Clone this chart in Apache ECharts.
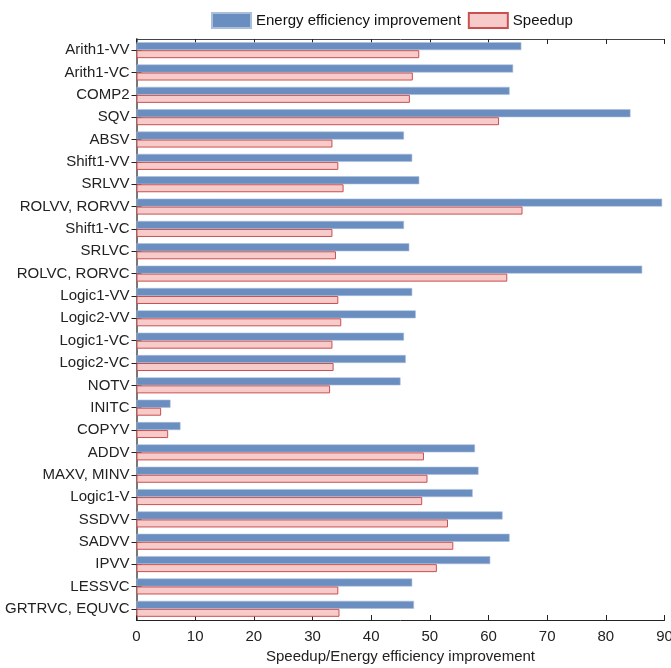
<!DOCTYPE html>
<html>
<head>
<meta charset="utf-8">
<script src="https://cdn.jsdelivr.net/npm/echarts@6/dist/echarts.min.js"></script>
<style>html,body{margin:0;padding:0;background:#fff}#c{width:671px;height:668px}</style>
</head>
<body>
<div id="c"></div>
<script>
const categories = ["Arith1-VV","Arith1-VC","COMP2","SQV","ABSV","Shift1-VV","SRLVV","ROLVV, RORVV","Shift1-VC","SRLVC","ROLVC, RORVC","Logic1-VV","Logic2-VV","Logic1-VC","Logic2-VC","NOTV","INITC","COPYV","ADDV","MAXV, MINV","Logic1-V","SSDVV","SADVV","IPVV","LESSVC","GRTRVC, EQUVC"];
const energyImprovement = [65.6,64.2,63.6,84.2,45.6,47.0,48.2,89.6,45.6,46.5,86.2,47.0,47.6,45.6,45.9,45.0,5.8,7.5,57.7,58.3,57.3,62.4,63.6,60.3,47.0,47.3];
const speedup = [48.2,47.1,46.6,61.8,33.4,34.4,35.3,65.8,33.4,34.0,63.2,34.4,34.9,33.4,33.6,33.0,4.2,5.4,49.0,49.6,48.7,53.1,54.0,51.2,34.4,34.6];
const xTicks = [0,10,20,30,40,50,60,70,80,90];

const chart = echarts.init(document.getElementById('c'));
const font = 'Liberation Sans, Arial, sans-serif';
chart.setOption({
  animation: false,
  legend: {
    left: 206, top: 7, icon: 'rect',
    itemWidth: 39, itemHeight: 15, itemGap: 7,
    textStyle: {fontFamily: font, fontSize: 15, color: '#111'},
    data: ['Energy efficiency improvement', 'Speedup']
  },
  grid: {left: 136.5, right: 6.5, top: 39, bottom: 48, containLabel: false, outerBoundsMode: 'none'},
  xAxis: [{
    type: 'value', min: xTicks[0], max: xTicks[xTicks.length-1], interval: 10,
    axisLine: {show: true, lineStyle: {color: '#222', width: 1}},
    axisTick: {show: true, inside: true, length: 5, lineStyle: {color: '#222'}},
    axisLabel: {fontFamily: font, fontSize: 15, color: '#222', margin: 9},
    splitLine: {show: false},
    name: 'Speedup/Energy efficiency improvement', nameLocation: 'middle', nameGap: 29,
    nameTextStyle: {fontFamily: font, fontSize: 15, color: '#222'}
  }, {
    type: 'value', position: 'top', min: 0, max: 90, interval: 10,
    axisLine: {show: true, lineStyle: {color: '#444', width: 1}},
    axisTick: {show: true, inside: true, length: 5, lineStyle: {color: '#222'}},
    axisLabel: {show: false}, splitLine: {show: false}
  }],
  yAxis: [{
    type: 'category', data: categories, inverse: true,
    axisLine: {show: true, lineStyle: {color: '#222', width: 1}},
    axisTick: {show: true, inside: true, alignWithLabel: true, length: 5, lineStyle: {color: '#222'}},
    axisLabel: {fontFamily: font, fontSize: 15, color: '#222', margin: 7}
  }, {
    type: 'category', data: categories, inverse: true, position: 'right',
    axisLine: {show: true, lineStyle: {color: '#777', width: 2}},
    axisTick: {show: true, inside: true, alignWithLabel: true, length: 5, lineStyle: {color: '#222'}},
    axisLabel: {show: false}
  }],
  series: [{
    name: 'Energy efficiency improvement', type: 'bar', data: energyImprovement,
    barWidth: 8, barGap: '0%',
    itemStyle: {color: '#6a8ebf', borderColor: '#a9bedb', borderWidth: 0.6}
  }, {
    name: 'Speedup', type: 'bar', data: speedup,
    barWidth: 8, barGap: '0%',
    itemStyle: {color: '#f8cbcb', borderColor: '#c9504f', borderWidth: 1}
  }]
});
</script>
</body>
</html>
